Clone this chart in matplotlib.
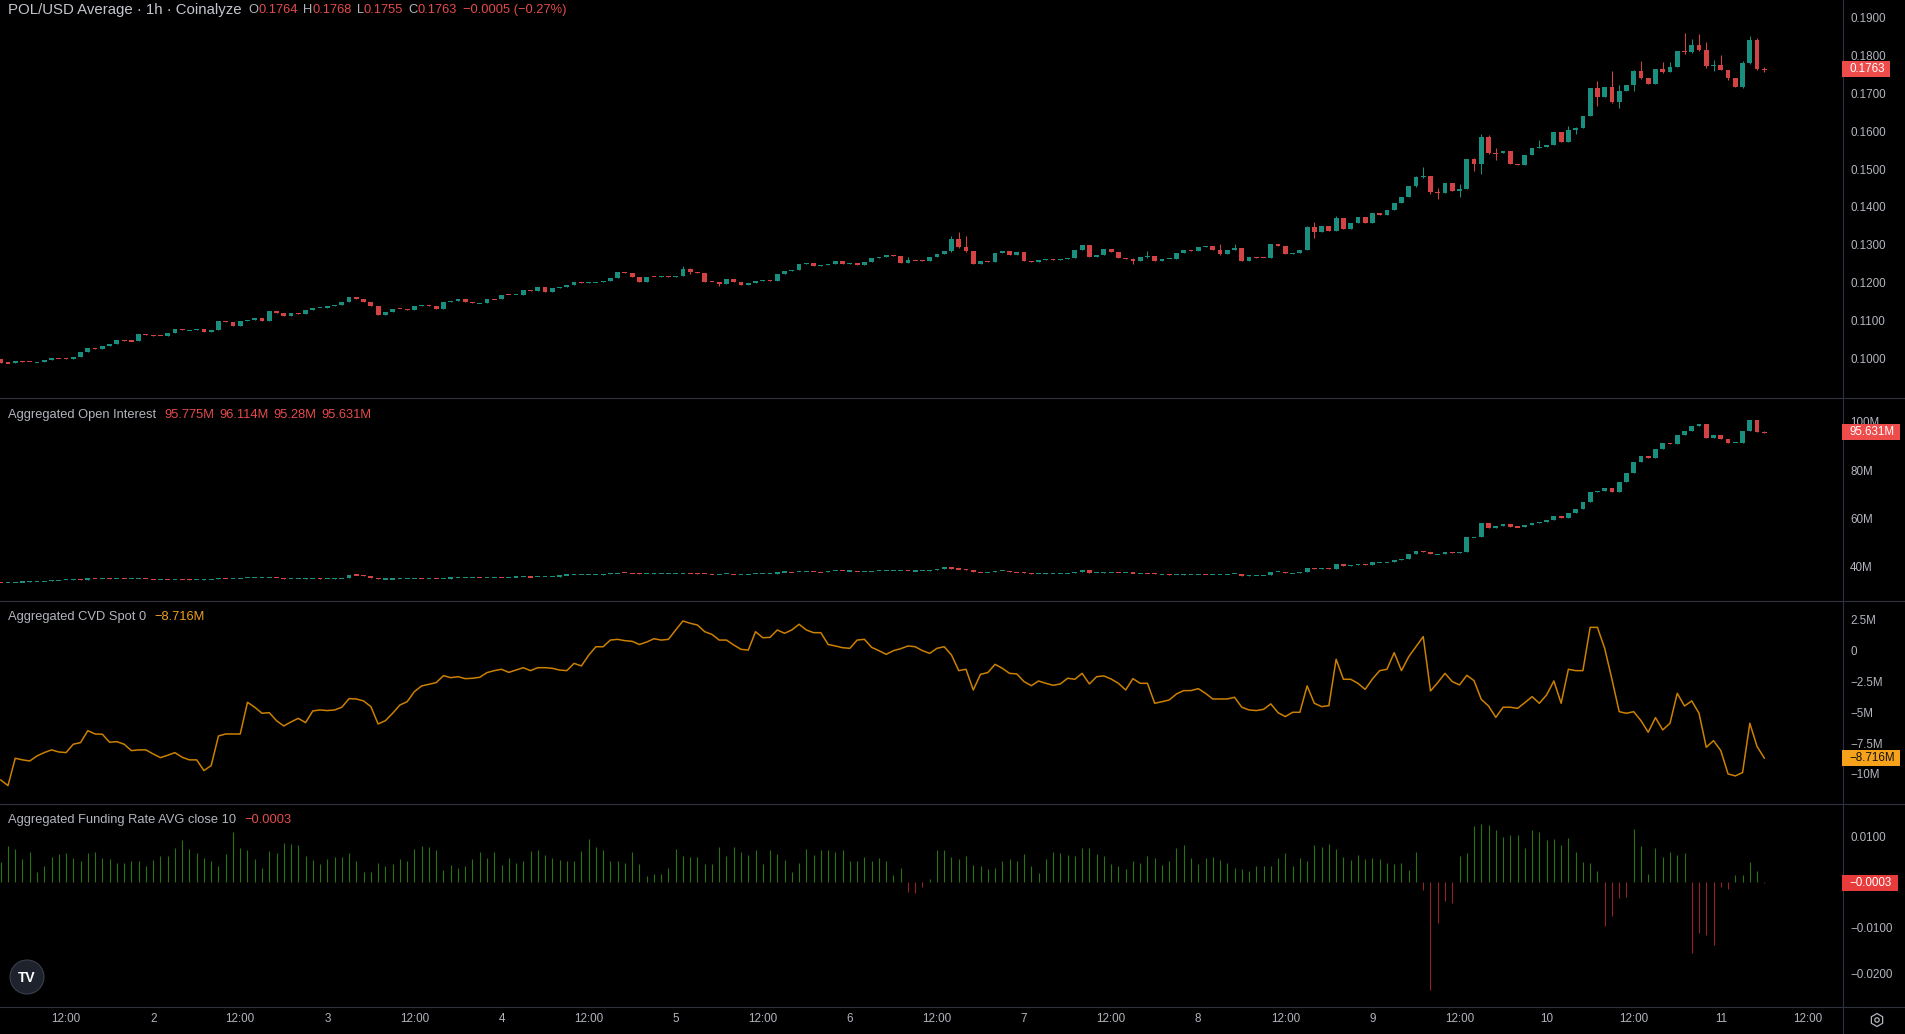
import numpy as np
import pandas as pd
import matplotlib
matplotlib.use("Agg")
import matplotlib.pyplot as plt
import matplotlib.dates as mdates
from matplotlib.patches import Rectangle, Circle, RegularPolygon
from matplotlib.lines import Line2D
from matplotlib.transforms import Affine2D

FONT = ["Liberation Sans", "DejaVu Sans"]
plt.rcParams["font.family"] = FONT

# ---------------- data (hourly, POL/USD, Coinalyze) ----------------
START = "2025-07-01 03:00"
price_open0 = 0.0998
price_close = [
    0.0989, 0.0988, 0.0993, 0.0992, 0.0991, 0.0991, 0.0996, 0.1002, 0.1001, 0.0999,
    0.1004, 0.1018, 0.1029, 0.1025, 0.1034, 0.1039, 0.1048, 0.1047, 0.1046, 0.1064,
    0.1063, 0.1061, 0.1059, 0.1068, 0.1079, 0.1075, 0.1075, 0.1079, 0.1071, 0.1075,
    0.1098, 0.1097, 0.1087, 0.1099, 0.1103, 0.1106, 0.1099, 0.1125, 0.1121, 0.1112,
    0.1120, 0.1119, 0.1128, 0.1134, 0.1134, 0.1139, 0.1141, 0.1149, 0.1163, 0.1156,
    0.1150, 0.1140, 0.1116, 0.1124, 0.1132, 0.1130, 0.1129, 0.1139, 0.1141, 0.1140,
    0.1132, 0.1149, 0.1153, 0.1156, 0.1150, 0.1146, 0.1146, 0.1157, 0.1156, 0.1169,
    0.1167, 0.1169, 0.1180, 0.1179, 0.1189, 0.1177, 0.1187, 0.1189, 0.1194, 0.1201,
    0.1199, 0.1202, 0.1202, 0.1204, 0.1212, 0.1228, 0.1227, 0.1214, 0.1202,
    0.1216, 0.1215, 0.1217, 0.1216, 0.1218, 0.1236, 0.1228, 0.1227, 0.1203, 0.1202,
    0.1197, 0.1209, 0.1203, 0.1195, 0.1199, 0.1205, 0.1207, 0.1206, 0.1223, 0.1231,
    0.1234, 0.1250, 0.1252, 0.1244, 0.1247, 0.1249, 0.1257, 0.1250, 0.1252, 0.1247,
    0.1255, 0.1265, 0.1268, 0.1272, 0.1271, 0.1252, 0.1260, 0.1259, 0.1258, 0.1268,
    0.1276, 0.1284, 0.1315, 0.1294, 0.1284, 0.1250, 0.1257, 0.1256, 0.1279, 0.1284,
    0.1273, 0.1282, 0.1257, 0.1256, 0.1259, 0.1262, 0.1261, 0.1264, 0.1265, 0.1286,
    0.1300, 0.1268, 0.1273, 0.1289, 0.1281, 0.1265, 0.1263, 0.1258, 0.1268, 0.1270,
    0.1257, 0.1263, 0.1264, 0.1279, 0.1286, 0.1284, 0.1294, 0.1297, 0.1286, 0.1276,
    0.1286, 0.1291, 0.1257, 0.1268, 0.1266, 0.1265, 0.1302, 0.1297,
    0.1276, 0.1278, 0.1286, 0.1348, 0.1334, 0.1350, 0.1337, 0.1371, 0.1342, 0.1358,
    0.1374, 0.1358, 0.1384, 0.1379, 0.1392, 0.1410, 0.1426, 0.1455, 0.1479, 0.1482,
    0.1440, 0.1437, 0.1463, 0.1442, 0.1447, 0.1526, 0.1513, 0.1584, 0.1543, 0.1541,
    0.1548, 0.1513, 0.1511, 0.1537, 0.1555, 0.1558, 0.1563, 0.1598, 0.1571, 0.1603,
    0.1608, 0.1640, 0.1714, 0.1690, 0.1716, 0.1676, 0.1706, 0.1722, 0.1759, 0.1740,
    0.1724, 0.1764, 0.1756, 0.1769, 0.1811, 0.1808, 0.1827, 0.1814, 0.1772, 0.1775,
    0.1762, 0.1740, 0.1716, 0.1780, 0.1840, 0.1764, 0.1763,
]
# notable wicks: index -> (high, low)
price_wicks = {
    94: (0.1243, 0.1217), 95: (0.1240, 0.1224), 99: (0.1203, 0.1192), 125: (0.1268, 0.1252),
    131: (0.1323, 0.1282), 132: (0.1334, 0.1291), 133: (0.1323, 0.1282), 156: (0.1265, 0.1250),
    158: (0.1284, 0.1266), 168: (0.1302, 0.1274), 170: (0.1302, 0.1286),
    180: (0.1350, 0.1292), 181: (0.1360, 0.1318), 184: (0.1376, 0.1340), 195: (0.1481, 0.1453),
    196: (0.1505, 0.1476), 197: (0.1482, 0.1434), 198: (0.1450, 0.1421), 201: (0.1461, 0.1426),
    203: (0.1528, 0.1495), 204: (0.1592, 0.1487), 205: (0.1590, 0.1540), 206: (0.1556, 0.1524),
    212: (0.1577, 0.1555), 216: (0.1614, 0.1573), 217: (0.1612, 0.1592), 220: (0.1732, 0.1666),
    222: (0.1759, 0.1674), 223: (0.1722, 0.1661), 225: (0.1760, 0.1706), 226: (0.1785, 0.1738),
    229: (0.1782, 0.1754), 230: (0.1782, 0.1755), 232: (0.1859, 0.1803), 233: (0.1843, 0.1805),
    234: (0.1856, 0.1812), 235: (0.1835, 0.1766), 236: (0.1787, 0.1759), 237: (0.1801, 0.1760),
    238: (0.1745, 0.1735), 240: (0.1785, 0.1714), 241: (0.1851, 0.1776), 242: (0.1845, 0.1762),
    243: (0.1768, 0.1755),
}

# Aggregated open interest, millions USD (close of each hour)
oi_open0 = 33.6
oi_close = [
    33.5, 33.5, 33.6, 33.7, 33.9, 34.0, 34.1, 34.4, 34.5, 34.6,
    34.7, 34.6, 35.3, 35.2, 35.2, 35.1, 35.1, 35.0, 35.0, 35.0,
    34.9, 34.8, 34.8, 34.7, 34.8, 34.7, 34.6, 34.6, 34.7, 34.8,
    35.3, 35.2, 35.2, 35.3, 35.4, 35.4, 35.4, 35.5, 35.2, 35.1,
    35.1, 35.1, 35.2, 35.2, 35.1, 35.1, 35.2, 35.3, 36.6, 36.5,
    36.0, 35.3, 34.9, 34.9, 34.9, 35.0, 35.0, 35.1, 35.0, 35.0,
    34.9, 35.0, 35.6, 35.6, 35.7, 35.7, 35.6, 35.7, 35.7, 35.6,
    35.7, 35.8, 35.8, 35.7, 35.9, 35.9, 35.9, 36.5, 36.6, 36.6,
    36.7, 36.7, 36.7, 36.8, 37.2, 37.5, 37.4, 37.2, 37.0,
    37.1, 37.2, 37.2, 37.2, 37.2, 37.3, 37.2, 37.1, 37.0, 36.9,
    37.0, 37.0, 36.9, 36.9, 37.0, 37.1, 37.1, 37.1, 37.8, 37.8,
    37.7, 38.0, 38.0, 37.8, 37.7, 38.2, 38.3, 38.2, 38.2, 38.1,
    38.1, 38.2, 38.3, 38.3, 38.4, 38.4, 38.2, 38.2, 38.3, 38.7,
    39.0, 39.8, 39.2, 38.9, 38.6, 37.7, 37.6, 37.6, 38.2, 38.3,
    37.7, 37.6, 37.4, 37.1, 37.1, 37.2, 37.2, 37.3, 37.4, 38.0,
    38.6, 37.5, 37.5, 37.6, 37.7, 37.6, 37.6, 37.2, 37.3, 37.2,
    36.8, 36.8, 36.6, 36.7, 36.8, 36.9, 37.0, 36.8, 36.8, 36.9,
    37.0, 37.1, 36.3, 36.4, 36.4, 36.4, 37.8, 38.0,
    37.2, 37.4, 37.6, 39.3, 39.2, 39.3, 39.2, 41.1, 40.4, 40.7,
    41.0, 40.7, 41.8, 41.8, 41.9, 42.6, 43.0, 45.1, 46.5, 46.1,
    45.1, 45.2, 46.2, 45.5, 46.1, 52.1, 52.4, 57.9, 56.0, 57.0,
    57.5, 56.6, 56.3, 57.2, 57.9, 58.5, 59.2, 61.0, 60.1, 62.3,
    63.7, 66.8, 70.9, 71.2, 72.7, 70.9, 74.9, 78.8, 83.4, 85.8,
    84.8, 88.6, 91.2, 90.9, 94.5, 96.1, 98.3, 99.0, 93.4, 94.6,
    93.0, 91.2, 91.3, 96.1, 100.6, 95.775, 95.631,
]
oi_wicks = {243: (96.114, 95.28)}

# Aggregated CVD spot, millions
cvd = [
    -10.49, -10.95, -8.73, -8.86, -8.95, -8.54, -8.27, -8.05, -8.22, -8.27,
    -7.59, -7.46, -6.49, -6.76, -6.78, -7.43, -7.38, -7.59, -8.11, -8.05,
    -8.05, -8.38, -8.68, -8.49, -8.27, -8.65, -8.86, -8.86, -9.73, -9.32,
    -6.92, -6.76, -6.76, -6.76, -4.19, -4.59, -5.08, -5.03, -5.68, -6.11,
    -5.78, -5.49, -5.84, -4.89, -4.81, -4.86, -4.81, -4.59, -3.89, -3.92,
    -4.08, -4.54, -5.95, -5.68, -5.08, -4.41, -4.14, -3.32, -2.86, -2.73,
    -2.59, -2.03, -2.19, -2.11, -2.27, -2.24, -2.16, -1.78, -1.62, -1.51,
    -1.76, -1.57, -1.38, -1.62, -1.38, -1.38, -1.43, -1.57, -1.62, -1.03,
    -1.24, -0.38, 0.32, 0.32, 0.86, 0.92, 0.81, 0.76, 0.50,
    0.70, 0.97, 0.86, 0.92, 1.68, 2.41, 2.22, 2.08, 1.54, 1.32,
    0.86, 0.86, 0.46, 0.11, 0.05, 1.54, 1.05, 1.08, 1.68, 1.41,
    1.68, 2.14, 1.68, 1.46, 1.46, 0.51, 0.38, 0.24, 0.19, 0.86,
    0.92, 0.27, 0.00, -0.30, 0.00, 0.16, 0.38, 0.32, 0.00, -0.22,
    0.19, 0.32, -0.35, -1.62, -1.51, -3.19, -1.92, -1.78, -1.11, -1.43,
    -1.84, -1.89, -2.51, -2.84, -2.46, -2.65, -2.81, -2.70, -2.24, -2.32,
    -1.84, -2.70, -2.11, -2.05, -2.30, -2.65, -3.19, -2.27, -2.65, -2.65,
    -4.27, -4.14, -4.00, -3.51, -3.24, -3.24, -3.08, -3.46, -3.92, -3.92,
    -3.92, -3.78, -4.59, -4.81, -4.86, -4.76, -4.32, -5.03,
    -5.35, -5.00, -5.00, -2.86, -4.27, -4.54, -4.46, -0.70, -2.32, -2.32,
    -2.65, -3.14, -2.30, -1.62, -1.51, -0.16, -1.62, -0.49, 0.32, 1.14,
    -3.27, -2.59, -1.84, -2.51, -2.78, -2.00, -2.43, -3.95, -4.49, -5.41,
    -4.59, -4.59, -4.68, -4.22, -3.73, -4.27, -3.59, -2.46, -4.27, -1.51,
    -1.62, -1.62, 1.89, 1.89, 0.19, -2.32, -4.95, -5.08, -4.95, -5.68,
    -6.62, -5.43, -6.43, -5.89, -3.46, -4.49, -4.08, -5.08, -7.84, -7.30,
    -8.11, -10.00, -10.16, -9.89, -5.89, -7.78, -8.716,
]

# Aggregated funding rate (AVG close 10), in units of 0.0001
funding_bp = [
    43, 78, 72, 50, 65, 22, 34, 55, 61, 64,
    53, 47, 64, 65, 53, 51, 42, 42, 45, 47,
    35, 48, 56, 56, 74, 91, 72, 64, 53, 45,
    34, 61, 109, 74, 69, 50, 31, 67, 64, 85,
    83, 80, 56, 49, 40, 50, 55, 55, 64, 47,
    22, 23, 42, 36, 39, 50, 47, 72, 78, 77,
    69, 26, 38, 31, 36, 50, 65, 53, 65, 37,
    53, 42, 47, 67, 69, 60, 53, 49, 47, 47,
    67, 94, 77, 69, 45, 45, 42, 65, 39,
    13, 18, 18, 31, 73, 58, 55, 55, 40, 40,
    77, 58, 77, 66, 60, 71, 40, 71, 62, 49,
    23, 42, 73, 60, 71, 71, 66, 71, 47, 45,
    55, 47, 53, 45, 16, 31, -21, -23, -10, 7,
    71, 71, 55, 51, 58, 38, 34, 29, 31, 47,
    51, 45, 62, 34, 20, 51, 66, 64, 60, 58,
    75, 75, 62, 58, 40, 34, 29, 47, 42, 58,
    53, 38, 47, 75, 82, 53, 40, 53, 55, 49,
    42, 31, 29, 25, 34, 34, 36, 53,
    64, 36, 53, 46, 80, 77, 83, 72, 55, 48,
    59, 50, 53, 50, 42, 39, 42, 26, 66, -17,
    -236, -89, -41, -47, 57, 64, 123, 127, 125, 114,
    99, 103, 103, 74, 114, 109, 92, 94, 81, 96,
    66, 44, 42, 24, -96, -74, -34, -32, 116, 79,
    18, 74, 55, 66, 59, 64, -155, -111, -115, -139,
    -10, -15, 15, 15, 44, 24, -3,
]
FUND_UNIT = 0.0001

price_ticks = [0.10, 0.11, 0.12, 0.13, 0.14, 0.15, 0.16, 0.17, 0.18, 0.19]
oi_ticks = [40, 60, 80, 100]
oi_tick_labels = ["40M", "60M", "80M", "100M"]
cvd_ticks = [2.5, 0, -2.5, -5, -7.5, -10]
cvd_tick_labels = ["2.5M", "0", "\u22122.5M", "\u22125M", "\u22127.5M", "\u221210M"]
fund_ticks = [0.01, -0.01, -0.02]
fund_tick_labels = ["0.0100", "\u22120.0100", "\u22120.0200"]

# ---------------- style ----------------
BG = "#000000"
UP = "#1a8e7f"
DN = "#d44343"
AXIS = "#b2b5be"
SEP = "#2f3340"
HDR_RED = "#e54b4b"
CVD_C = "#cc8000"
F_UP = "#2b7311"
F_DN = "#962323"
TICK_FS = 8.4

W, H = 1906, 1034
fig = plt.figure(figsize=(W / 100, H / 100), dpi=100, facecolor=BG)
PX = Affine2D().scale(1 / 100, -1 / 100).translate(0, H / 100) + fig.dpi_scale_trans

n = len(price_close)
times = pd.date_range(START, periods=n, freq="h")
x = mdates.date2num(times.to_pydatetime())
xl = mdates.date2num(pd.Timestamp("2025-07-01 02:54").to_pydatetime())
xr = mdates.date2num(pd.Timestamp("2025-07-11 16:42").to_pydatetime())
BW = 0.66 / 24
PLOT_R = 1842


def add_ax(y0, y1, ylim):
    ax = fig.add_axes([0, 1 - y1 / H, PLOT_R / W, (y1 - y0) / H])
    ax.set_facecolor(BG)
    for s in ax.spines.values():
        s.set_visible(False)
    ax.yaxis.tick_right()
    ax.tick_params(axis="y", length=0, pad=5.8, labelsize=TICK_FS, labelcolor=AXIS)
    ax.tick_params(axis="x", length=0, labelbottom=False)
    ax.set_xlim(xl, xr)
    ax.set_ylim(*ylim)
    return ax


def candles(ax, o, c, wicks, minh):
    o = np.asarray(o, float)
    c = np.asarray(c, float)
    hi = np.maximum(o, c)
    lo = np.minimum(o, c)
    for i, (hh, ll) in wicks.items():
        hi[i] = max(hi[i], hh)
        lo[i] = min(lo[i], ll)
    up = c >= o
    cols = np.where(up, UP, DN)
    height = np.abs(c - o)
    mid = (o + c) / 2
    height = np.maximum(height, minh)
    bottom = mid - height / 2
    ax.vlines(x, lo, hi, colors=cols, linewidth=0.75, zorder=2)
    ax.bar(x, height, BW, bottom, color=cols, linewidth=0, zorder=3)


# price panel
ax_p = add_ax(0, 397, (0.08989, 0.19456))
p_open = [price_open0] + price_close[:-1]
candles(ax_p, p_open, price_close, price_wicks, 0.00028)
ax_p.set_yticks(price_ticks)
ax_p.set_yticklabels([f"{v:.4f}" for v in price_ticks])

# open interest panel
ax_o = add_ax(398, 600, (26.21, 109.85))
o_open = [oi_open0] + oi_close[:-1]
candles(ax_o, o_open, oi_close, oi_wicks, 0.45)
ax_o.set_yticks(oi_ticks)
ax_o.set_yticklabels(oi_tick_labels)

# CVD panel
ax_c = add_ax(601, 803, (-12.36, 4.03))
ax_c.plot(x, cvd, color=CVD_C, linewidth=1.1, zorder=3)
ax_c.set_yticks(cvd_ticks)
ax_c.set_yticklabels(cvd_tick_labels)

# funding panel
ax_f = add_ax(804, 1006, (-0.02715, 0.01708))
fvals = np.asarray(funding_bp, float) * FUND_UNIT
ax_f.vlines(x, 0, fvals, colors=np.where(fvals >= 0, F_UP, F_DN), linewidth=0.8, zorder=3)
ax_f.set_yticks(fund_ticks)
ax_f.set_yticklabels(fund_tick_labels)

tick_times = pd.date_range("2025-07-01 12:00", "2025-07-11 12:00", freq="12h")
ax_f.set_xticks(mdates.date2num(tick_times.to_pydatetime()))
ax_f.set_xticklabels([("12:00" if t.hour == 12 else str(t.day)) for t in tick_times])
ax_f.tick_params(axis="x", labelbottom=True, length=0, pad=5.3, labelsize=TICK_FS, labelcolor=AXIS)

# separators
for yy in (397.5, 600.5, 803.5, 1006.5):
    fig.add_artist(Line2D([0, W], [yy, yy], transform=PX, color=SEP, linewidth=0.8))
fig.add_artist(Line2D([PLOT_R + 0.5, PLOT_R + 0.5], [0, H], transform=PX, color=SEP, linewidth=0.8))


# last-value boxes on the right scale
def value_box(ax, val, text, fc, tc, x1):
    y_disp = ax.transData.transform((xl, val))[1]
    yt = H - y_disp
    fig.add_artist(Rectangle((PLOT_R, yt - 8), x1 - PLOT_R, 16, transform=PX,
                             facecolor=fc, edgecolor="none", zorder=5))
    fig.text(PLOT_R + 7, yt, text, transform=PX, color=tc, fontsize=TICK_FS,
             va="center", ha="left", zorder=6)


value_box(ax_p, price_close[-1], f"{price_close[-1]:.4f}", "#ee4b4b", "white", 1890)
value_box(ax_o, oi_close[-1], f"{oi_close[-1]:.3f}M", "#ee4b4b", "white", 1900)
value_box(ax_c, cvd[-1], f"\u2212{abs(cvd[-1]):.3f}M", "#f7a21b", "#111111", 1900)
value_box(ax_f, fvals[-1], f"\u2212{abs(fvals[-1]):.4f}", "#e83c3c", "white", 1898)

# headers
renderer = fig.canvas.get_renderer()


def header(y, segments):
    xx = 8
    for s, col, gap, size in segments:
        t = fig.text(xx, y, s, transform=PX, color=col, fontsize=size, va="center", ha="left")
        xx += t.get_window_extent(renderer).width + gap


header(10, [("POL/USD Average \u00b7 1h \u00b7 Coinalyze", "#c3c6ce", 7, 10.8),
            ("O", AXIS, 0, 9.3), ("0.1764", HDR_RED, 5, 9.3),
            ("H", AXIS, 0, 9.3), ("0.1768", HDR_RED, 5, 9.3),
            ("L", AXIS, 0, 9.3), ("0.1755", HDR_RED, 5, 9.3),
            ("C", AXIS, 0, 9.3), ("0.1763", HDR_RED, 6, 9.3),
            ("\u22120.0005 (\u22120.27%)", HDR_RED, 0, 9.3)])
header(415, [("Aggregated Open Interest", AXIS, 8, 9.3),
             ("95.775M", HDR_RED, 5, 9.3), ("96.114M", HDR_RED, 5, 9.3),
             ("95.28M", HDR_RED, 5, 9.3), ("95.631M", HDR_RED, 0, 9.3)])
header(617, [("Aggregated CVD Spot 0", AXIS, 8, 9.3), ("\u22128.716M", "#f0a020", 0, 9.3)])
header(820, [("Aggregated Funding Rate AVG close 10", AXIS, 8, 9.3), ("\u22120.0003", HDR_RED, 0, 9.3)])

# TradingView logo
fig.add_artist(Circle((27, 977), 17, transform=PX, facecolor="#1e222d",
                      edgecolor="#3b3f4b", linewidth=0.8, zorder=5))
fig.text(27, 978, "TV", transform=PX, color="white", fontsize=10, fontweight="bold",
         va="center", ha="center", zorder=6)

# settings icon
fig.add_artist(RegularPolygon((1877, 1020), 6, radius=6.5, transform=PX, facecolor="none",
                              edgecolor=AXIS, linewidth=0.9))
fig.add_artist(Circle((1877, 1020), 2.2, transform=PX, facecolor="none",
                      edgecolor=AXIS, linewidth=0.9))

fig.savefig("out.png", dpi=100, facecolor=BG)
